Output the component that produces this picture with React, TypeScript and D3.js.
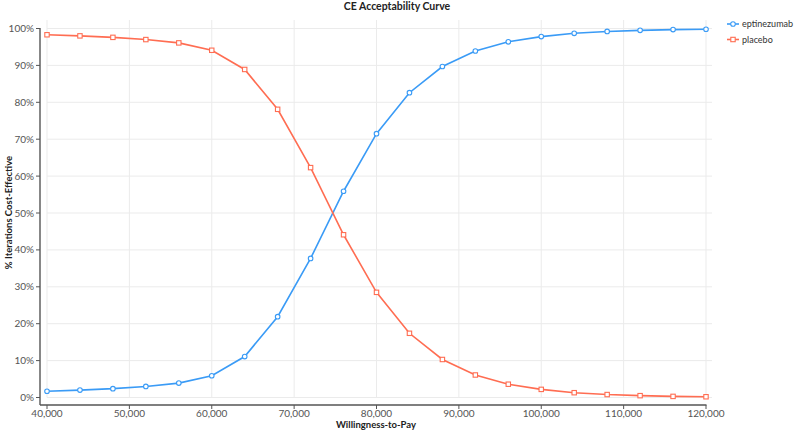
import * as React from 'react';
import * as d3 from 'd3';

const wtp = [40000, 44000, 48000, 52000, 56000, 60000, 64000, 68000, 72000, 76000, 80000,
  84000, 88000, 92000, 96000, 100000, 104000, 108000, 112000, 116000, 120000];
const eptinezumab = [1.7, 2.0, 2.4, 3.0, 3.9, 5.9, 11.1, 21.9, 37.7, 55.9, 71.5,
  82.6, 89.7, 93.9, 96.4, 97.8, 98.7, 99.2, 99.5, 99.7, 99.8];
const placebo = [98.3, 98.0, 97.6, 97.0, 96.1, 94.1, 88.9, 78.1, 62.3, 44.1, 28.5,
  17.4, 10.3, 6.1, 3.6, 2.2, 1.3, 0.8, 0.5, 0.3, 0.2];
const xTicks = [40000, 50000, 60000, 70000, 80000, 90000, 100000, 110000, 120000];
const yTicks = [0, 10, 20, 30, 40, 50, 60, 70, 80, 90, 100];

const W = 794, H = 431;
const FONT = 'Lato, "Noto Sans", sans-serif';
const BLUE = '#3a9bf6';
const RED = '#ff6d52';

export default function App() {
  const x = d3.scaleLinear().domain([40000, 120000]).range([47, 706]);
  const y = d3.scaleLinear().domain([0, 100]).range([397.5, 28.5]);
  const line = d3.line<[number, number]>().x(d => x(d[0])).y(d => y(d[1]));
  const fmt = d3.format(',');

  const series = [
    { name: 'eptinezumab', values: eptinezumab, color: BLUE, shape: 'circle' },
    { name: 'placebo', values: placebo, color: RED, shape: 'square' },
  ];

  const marker = (shape: string, cx: number, cy: number, color: string, key?: any) =>
    shape === 'circle'
      ? <circle key={key} cx={cx} cy={cy} r={2.3} fill="#fff" stroke={color} strokeWidth={1.1} />
      : <rect key={key} x={cx - 2.2} y={cy - 2.2} width={4.4} height={4.4} fill="#fff" stroke={color} strokeWidth={1.1} />;

  return (
    <svg width={W} height={H} style={{ position: 'absolute', left: 0, top: 0, display: 'block', fontFamily: FONT }}>
      <text x={397} y={10} textAnchor="middle" fontSize={10.5} fontWeight="bold" fill="#222">CE Acceptability Curve</text>

      {/* grid */}
      {yTicks.map(t => (
        <line key={'gy' + t} x1={47} x2={712} y1={y(t)} y2={y(t)} stroke="#ebebeb" strokeWidth={1} />
      ))}
      {xTicks.map(t => (
        <line key={'gx' + t} x1={x(t)} x2={x(t)} y1={20} y2={397.5} stroke="#ebebeb" strokeWidth={1} />
      ))}

      {/* y axis */}
      <line x1={40} x2={40} y1={28} y2={405} stroke="#555" strokeWidth={1.4} />
      {yTicks.map(t => (
        <g key={'ty' + t}>
          <line x1={36} x2={40} y1={y(t)} y2={y(t)} stroke="#555" strokeWidth={1} />
          <text x={34} y={y(t)} dy="0.35em" textAnchor="end" fontSize={10} fill="#555">{t + '%'}</text>
        </g>
      ))}
      <text transform={`translate(9,${(28 + 397) / 2}) rotate(-90)`} textAnchor="middle" dy="0.35em"
        fontSize={9.5} fontWeight="bold" fill="#222">% Iterations Cost-Effective</text>

      {/* x axis */}
      <line x1={40} x2={706.5} y1={405} y2={405} stroke="#555" strokeWidth={1.4} />
      {xTicks.map(t => (
        <g key={'tx' + t}>
          <line x1={x(t)} x2={x(t)} y1={405} y2={409} stroke="#555" strokeWidth={1} />
          <text x={x(t)} y={413.5} dy="0.35em" textAnchor="middle" fontSize={10} fill="#555">{fmt(t)}</text>
        </g>
      ))}
      <text x={376} y={428} textAnchor="middle" fontSize={9.5} fontWeight="bold" fill="#222">Willingness-to-Pay</text>

      {/* series */}
      {series.map(s => {
        const pts = wtp.map((w, i) => [w, s.values[i]] as [number, number]);
        return (
          <g key={s.name}>
            <path d={line(pts) || ''} fill="none" stroke={s.color} strokeWidth={1.6} />
            {pts.map((p, i) => marker(s.shape, x(p[0]), y(p[1]), s.color, i))}
          </g>
        );
      })}

      {/* legend */}
      {series.map((s, i) => (
        <g key={'lg' + s.name} transform={`translate(727,${24 + i * 15.5})`}>
          <line x1={0} x2={12} y1={0} y2={0} stroke={s.color} strokeWidth={1.6} />
          {marker(s.shape, 6, 0, s.color)}
          <text x={15} y={0} dy="0.35em" fontSize={9} fill="#333">{s.name}</text>
        </g>
      ))}
    </svg>
  );
}
